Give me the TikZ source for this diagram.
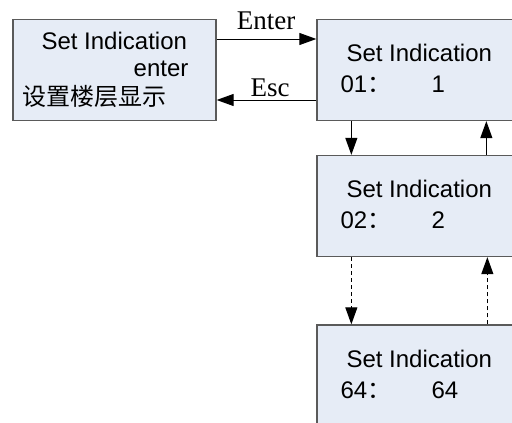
\documentclass[tikz,border=0pt]{standalone}
\usepackage{fontspec}
\setmainfont{Liberation Sans}
\newfontfamily\serifrm{Liberation Serif}
\newfontfamily\cjk{Noto Sans CJK SC}
\usetikzlibrary{arrows.meta,positioning}
\definecolor{boxfill}{RGB}{230,236,246}
\definecolor{boxline}{RGB}{90,90,90}
\tikzset{menubox/.style={draw=boxline, line width=1.3pt, fill=boxfill, inner sep=0pt, minimum height=101pt}}
\tikzset{boxtext/.style={anchor=base west, inner sep=0pt, font=\fontsize{24}{28}\selectfont}}
\tikzset{keytext/.style={anchor=base, inner sep=0pt, font=\serifrm\fontsize{27}{30}\selectfont}}
\tikzset{arr/.style={draw, line width=1pt, -{Triangle[length=17pt,width=12pt]}}}
\tikzset{darr/.style={arr, dash pattern=on 4pt off 3pt}}

\begin{document}
\begin{tikzpicture}[x=1pt,y=-1pt]
		\useasboundingbox (0,0) rectangle (512,423);
		\clip (0,0) rectangle (512,423);
		
		\node[menubox, minimum width=203pt] (L) at (114.5,70){};
		\node[menubox, minimum width=230pt] (S1) at (432,70){};
		\node[menubox, minimum width=230pt] (S2) at (432,206){};
		\node[menubox, minimum width=230pt] (S3) at (432,375.5){};
		
		% texts in the boxes
		\node[boxtext] (Lt1) at ([xshift=29pt,yshift=-31pt]L.north west){Set Indication};
		\node[boxtext, anchor=base east] (Lt2) at ([xshift=-28pt,yshift=-58pt]L.north east){enter};
		\node[boxtext] (Lt3) at ([xshift=10pt,yshift=-87pt]L.north west){\cjk 设置楼层显示};
		
		\node[boxtext] (S1t1) at ([xshift=30pt,yshift=-43pt]S1.north west){Set Indication};
		\node[boxtext] (S1t2) at ([xshift=24pt,yshift=-74pt]S1.north west){\makebox[91pt][l]{01{\cjk ：}}1};
		\node[boxtext] (S2t1) at ([xshift=30pt,yshift=-43pt]S2.north west){Set Indication};
		\node[boxtext] (S2t2) at ([xshift=24pt,yshift=-74pt]S2.north west){\makebox[91pt][l]{02{\cjk ：}}2};
		\node[boxtext] (S3t1) at ([xshift=30pt,yshift=-43pt]S3.north west){Set Indication};
		\node[boxtext] (S3t2) at ([xshift=24pt,yshift=-74pt]S3.north west){\makebox[91pt][l]{64{\cjk ：}}64};
		
		% enter / esc
		\draw[arr] ([yshift=31pt]L.east) -- ([yshift=31pt]S1.west);
		\draw[arr] ([yshift=-30pt]S1.west) -- ([yshift=-30pt]L.east);
		\node[keytext] (enter) at (266,30){Enter};
		\node[keytext] (esc) at (270,96){Esc};
		
		% up and down
		\draw[arr] ([xshift=35pt]S1.south west) -- ([xshift=35pt]S2.north west);
		\draw[arr] ([xshift=170pt]S2.north west) -- ([xshift=170pt]S1.south west);
		\draw[darr] ([xshift=35pt]S2.south west) -- ([xshift=35pt]S3.north west);
		\draw[darr] ([xshift=171pt]S3.north west) -- ([xshift=171pt]S2.south west);
	\end{tikzpicture}
\end{document}
